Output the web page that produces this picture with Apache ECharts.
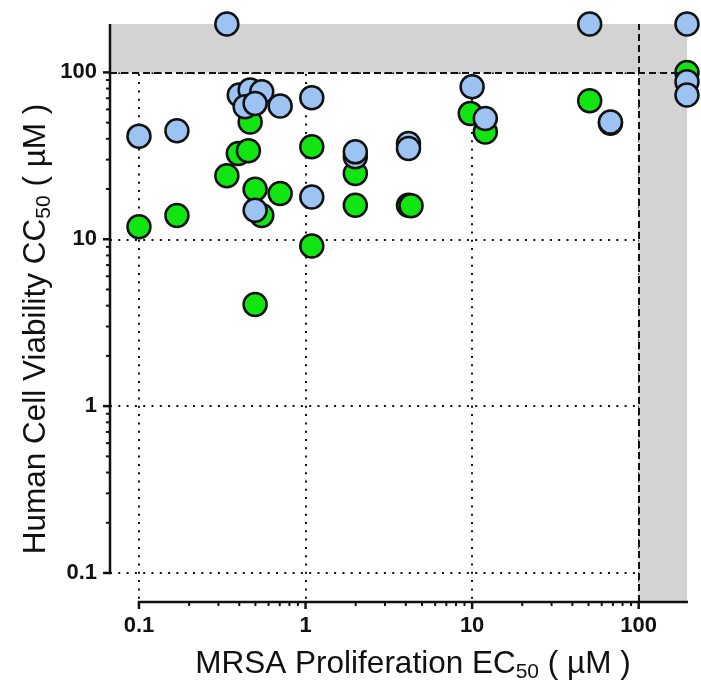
<!DOCTYPE html>
<html>
<head>
<meta charset="utf-8">
<script src="https://cdn.jsdelivr.net/npm/echarts@6/dist/echarts.min.js"></script>
<style>
  html, body { margin: 0; padding: 0; background: #ffffff; }
  #chart { width: 701px; height: 694px; }
</style>
</head>
<body>
<div id="chart"></div>
<script>
// Axis extent (both axes are log10) and the 100 µM cutoff
const axisMin = 0.067;
const axisMax = 195;
const cutoff = 100;
const decadeTicks = [0.1, 1, 10, 100];
const minorSteps = [2, 3, 4, 5, 6, 7, 8, 9];

// Green compounds: MRSA EC50 (x) vs human cell CC50 (y), µM
const greenX = [0.1, 0.169, 0.337, 0.395, 0.454, 0.465, 0.498, 0.546, 0.498, 0.704,
                1.09, 1.09, 1.99, 1.99, 4.15, 4.3, 9.75, 12.0, 50.8, 195];
const greenY = [11.9, 13.9, 24.0, 32.7, 33.9, 50.5, 19.95, 13.9, 4.07, 18.8,
                35.8, 9.12, 24.8, 16.0, 16.0, 15.9, 56.8, 44.0, 67.6, 100];

// Blue compounds
const blueX = [0.1, 0.169, 0.337, 0.40, 0.465, 0.434, 0.546, 0.498, 0.704, 0.498,
               1.09, 1.09, 1.99, 1.99, 4.15, 4.15, 10.0, 12.0, 50.8, 67.7, 67.7,
               195, 195, 195];
const blueY = [41.5, 44.7, 195, 73.1, 78.3, 62.2, 76.5, 65.2, 62.8, 14.9,
               70.4, 17.9, 31.2, 33.4, 37.5, 35.0, 82.0, 53.0, 195, 49.5, 50.5,
               195, 87.8, 73.1];

const pairs = (xs, ys) => xs.map((x, i) => [x, ys[i]]);

// minor tick values between the labelled decades
const minorTicks = [];
decadeTicks.slice(0, -1).forEach(d => minorSteps.forEach(k => minorTicks.push(+(d * k).toPrecision(3))));

const ink = '#111111';
const sans = "'Liberation Sans', Arial, sans-serif";
const tickFont = { fontFamily: sans, fontWeight: 'bold', fontSize: 22, color: ink };

// hand-drawn axis frame: lines run from 0.1 to the far edge, with major and minor ticks
function renderAxes(params, api) {
  const cs = params.coordSys;
  const left = cs.x, top = cs.y, right = cs.x + cs.width, bottom = cs.y + cs.height;
  const lw = 2.5;
  const style = { stroke: ink, lineWidth: lw, lineCap: 'butt' };
  const thin = { stroke: ink, lineWidth: 2, lineCap: 'butt' };
  const origin = api.coord([0.1, 0.1]);
  const kids = [];
  const line = (x1, y1, x2, y2, s) => kids.push({ type: 'line', shape: { x1, y1, x2, y2 }, style: s });
  line(origin[0] - lw / 2, bottom, right + 1, bottom, style);
  line(left, origin[1] + lw / 2, left, top, style);
  decadeTicks.forEach(v => {
    const p = api.coord([v, v]);
    line(p[0], bottom, p[0], bottom + 7, style);
    line(left - 7, p[1], left, p[1], style);
  });
  minorTicks.forEach(v => {
    const p = api.coord([v, v]);
    line(p[0], bottom, p[0], bottom + 4, thin);
    line(left - 4, p[1], left, p[1], thin);
  });
  return { type: 'group', children: kids };
}

const chart = echarts.init(document.getElementById('chart'), null, { renderer: 'canvas' });

const dotted = { color: ink, width: 2, type: [2, 6.3] };
const fmt = v => String(+(+v).toPrecision(3));

const symbolStyle = (fill) => ({ color: fill, borderColor: ink, borderWidth: 2.5, opacity: 1 });

const titleStyle = (text) => ({
  text,
  fontFamily: sans,
  fontSize: 31.5,
  fill: ink,
  align: 'center',
  verticalAlign: 'middle',
  lineHeight: 38,
  rich: { sub: { fontFamily: sans, fontSize: 21, lineHeight: 21, padding: [12, 0, 0, 0], verticalAlign: 'bottom', fill: ink } }
});

chart.setOption({
  animation: false,
  backgroundColor: '#ffffff',
  grid: { left: 110, right: 14, top: 24, bottom: 92, containLabel: false },
  xAxis: {
    type: 'log', logBase: 10, min: axisMin, max: axisMax,
    axisLine: { show: false }, axisTick: { show: false },
    axisLabel: Object.assign({ margin: 13, showMinLabel: false, showMaxLabel: false, formatter: fmt }, tickFont),
    splitLine: { show: true, showMinLine: false, showMaxLine: false, lineStyle: dotted }
  },
  yAxis: {
    type: 'log', logBase: 10, min: axisMin, max: axisMax,
    axisLine: { show: false }, axisTick: { show: false },
    axisLabel: Object.assign({ margin: 13, showMinLabel: false, showMaxLabel: false, formatter: fmt }, tickFont),
    splitLine: { show: true, showMinLine: false, showMaxLine: false, lineStyle: dotted }
  },
  series: [
    {
      name: 'cutoff',
      type: 'scatter',
      data: [],
      silent: true,
      markArea: {
        silent: true,
        itemStyle: { color: '#d3d3d3' },
        data: [
          [{ xAxis: axisMin, yAxis: cutoff }, { xAxis: axisMax, yAxis: axisMax }],
          [{ xAxis: cutoff, yAxis: axisMin }, { xAxis: axisMax, yAxis: cutoff }]
        ]
      },
      markLine: {
        silent: true,
        symbol: 'none',
        label: { show: false },
        lineStyle: { color: ink, width: 2, type: [7, 4] },
        data: [{ yAxis: cutoff }, { xAxis: cutoff }]
      },
      z: 1
    },
    {
      name: 'frame',
      type: 'custom',
      renderItem: renderAxes,
      data: [[1, 1]],
      clip: false,
      silent: true,
      z: 3
    },
    {
      name: 'green',
      type: 'scatter',
      data: pairs(greenX, greenY),
      symbol: 'circle',
      symbolSize: 23,
      clip: false,
      itemStyle: symbolStyle('#12e612'),
      z: 4
    },
    {
      name: 'blue',
      type: 'scatter',
      data: pairs(blueX, blueY),
      symbol: 'circle',
      symbolSize: 23,
      clip: false,
      itemStyle: symbolStyle('#9dc3f3'),
      z: 5
    }
  ],
  graphic: [
    {
      type: 'text',
      x: 413, y: 664,
      style: titleStyle('MRSA Proliferation EC{sub|50} ( µM )')
    },
    {
      type: 'text',
      x: 36, y: 329,
      rotation: Math.PI / 2,
      style: titleStyle('Human Cell Viability CC{sub|50} ( µM )')
    }
  ]
});
</script>
</body>
</html>
